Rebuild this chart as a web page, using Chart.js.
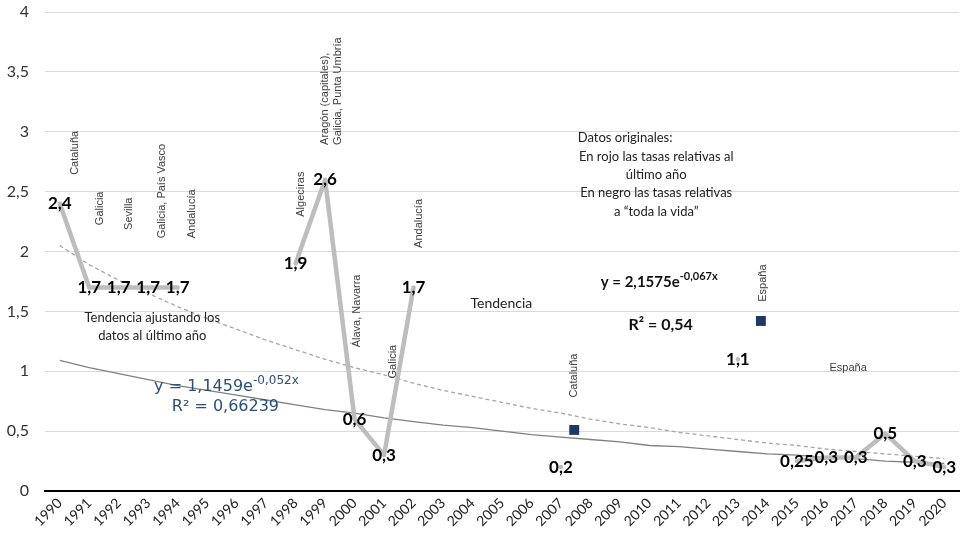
<!DOCTYPE html>
<html>
<head>
<meta charset="utf-8">
<script src="https://cdn.jsdelivr.net/npm/chart.js@4.4.1/dist/chart.umd.min.js"></script>
<style>
    html, body { margin: 0; padding: 0; background: #fff; }
    #wrap { width: 966px; height: 538px; }
</style>
</head>
<body>
<div id="wrap"><canvas id="myChart"></canvas></div>
<script>
// x axis years
const years = [1990, 1991, 1992, 1993, 1994, 1995, 1996, 1997, 1998, 1999, 2000,
    2001, 2002, 2003, 2004, 2005, 2006, 2007, 2008, 2009, 2010,
    2011, 2012, 2013, 2014, 2015, 2016, 2017, 2018, 2019, 2020];

// original rates (null = no study that year)
const rates = [2.4, 1.7, 1.7, 1.7, 1.7, null, null, null, 1.9, 2.6, 0.6,
    0.3, 1.7, null, null, null, null, 0.2, null, null, null,
    null, null, 1.1, null, 0.25, 0.28, 0.28, 0.48, 0.25, 0.2];
const rateLabels = ["2,4", "1,7", "1,7", "1,7", "1,7", "", "", "", "1,9", "2,6", "0,6",
    "0,3", "1,7", "", "", "", "", "0,2", "", "", "",
    "", "", "1,1", "", "0,25", "0,3", "0,3", "0,5", "0,3", "0,3"];

// rates adjusted to the last year (square markers)
const squareYears = [2007.45, 2013.78];
const squareValues = [0.51, 1.42];

// trend lines
const trendOriginal = [2.05, 1.89, 1.76, 1.65, 1.54, 1.44, 1.35, 1.26, 1.18, 1.10, 1.03,
    0.97, 0.90, 0.84, 0.79, 0.74, 0.69, 0.65, 0.60, 0.56, 0.53,
    0.49, 0.46, 0.43, 0.40, 0.38, 0.35, 0.33, 0.31, 0.29, 0.27];
const trendAdjusted = [1.09, 1.03, 0.98, 0.93, 0.88, 0.84, 0.80, 0.76, 0.72, 0.68, 0.65,
    0.61, 0.58, 0.55, 0.53, 0.50, 0.47, 0.45, 0.43, 0.41, 0.38,
    0.37, 0.35, 0.33, 0.31, 0.30, 0.28, 0.27, 0.25, 0.24, 0.23];

const yTicks = [0, 0.5, 1, 1.5, 2, 2.5, 3, 3.5, 4];

const toPoints = (vals) => years.map((yr, i) => ({ x: yr, y: vals[i] }));

// notes drawn next to the points: [text, year, value]
const verticalNotes = [
    ["Cataluña", 1990.51, 2.64],
    ["Galicia", 1991.35, 2.22],
    ["Sevilla", 1992.36, 2.18],
    ["Galicia, País Vasco", 1993.47, 2.11],
    ["Andalucía", 1994.48, 2.11],
    ["Algeciras", 1998.18, 2.29],
    ["Aragón (capitales),", 1998.99, 2.89],
    ["Galicia, Punta Umbría", 1999.43, 2.89],
    ["Álava, Navarra", 2000.07, 1.20],
    ["Galicia", 2001.31, 0.94],
    ["Andalucía", 2002.19, 2.03],
    ["Cataluña", 2007.44, 0.78],
    ["España", 2013.84, 1.58],
];

const notesPlugin = {
    id: "notes",
    afterDatasetsDraw(chart) {
        const { ctx } = chart;
        const xs = chart.scales.x;
        const ys = chart.scales.y;
        const px = (v) => xs.getPixelForValue(v);
        const py = (v) => ys.getPixelForValue(v);

        ctx.save();

        // rotated place names
        ctx.fillStyle = "#404040";
        ctx.font = "11px 'Liberation Sans'";
        ctx.textAlign = "left";
        ctx.textBaseline = "middle";
        verticalNotes.forEach(([txt, xv, yv]) => {
            ctx.save();
            ctx.translate(px(xv), py(yv));
            ctx.rotate(-Math.PI / 2);
            ctx.fillText(txt, 0, 0);
            ctx.restore();
        });
        ctx.textAlign = "center";
        ctx.fillText("España", px(2016.74), py(1.03));

        // text boxes
        ctx.fillStyle = "#222";
        ctx.font = "13px Lato";
        ctx.fillText("Tendencia ajustando los", px(1993.14), py(1.45));
        ctx.fillText("datos al último año", px(1993.14), py(1.30));
        ctx.font = "14px Lato";
        ctx.fillText("Tendencia", px(2004.98), py(1.57));

        ctx.font = "13px Lato";
        ctx.textAlign = "left";
        ctx.fillText("Datos originales:", px(2007.57), py(2.95));
        ctx.textAlign = "center";
        ctx.fillText("En rojo las tasas relativas al", px(2010.23), py(2.79));
        ctx.fillText("último año", px(2010.23), py(2.64));
        ctx.fillText("En negro las tasas relativas", px(2010.23), py(2.49));
        ctx.fillText("a “toda la vida”", px(2010.23), py(2.33));

        // equation of the original trend
        ctx.textAlign = "left";
        ctx.fillStyle = "#111";
        let x0 = px(2008.35);
        let y0 = py(1.745);
        ctx.font = "bold 15px Lato";
        ctx.fillText("y = 2,1575e", x0, y0);
        x0 += ctx.measureText("y = 2,1575e").width;
        ctx.font = "bold 11px Lato";
        ctx.fillText("-0,067x", x0, y0 - 6);
        ctx.font = "bold 16px Lato";
        ctx.fillText("R² = 0,54", px(2009.29), py(1.386));

        // equation of the adjusted trend
        ctx.fillStyle = "#2D4F73";
        x0 = px(1993.2);
        y0 = py(0.87);
        ctx.font = "16px 'DejaVu Sans'";
        ctx.fillText("y = 1,1459e", x0, y0);
        x0 += ctx.measureText("y = 1,1459e").width;
        ctx.font = "12px 'DejaVu Sans'";
        ctx.fillText("-0,052x", x0, y0 - 6);
        ctx.font = "16px 'DejaVu Sans'";
        ctx.fillText("R² = 0,66239", px(1993.8), py(0.70));

        // value labels centred on the points
        ctx.fillStyle = "#000";
        ctx.font = "bold 17px Lato";
        ctx.textAlign = "center";
        ctx.textBaseline = "middle";
        const meta = chart.getDatasetMeta(2);
        meta.data.forEach((pt, i) => {
            if (rates[i] === null || !rateLabels[i]) return;
            ctx.fillText(rateLabels[i], pt.x, pt.y);
        });

        ctx.restore();
    },
};

const ctx = document.getElementById("myChart").getContext("2d");

new Chart(ctx, {
    type: "line",
    data: {
        datasets: [
            {
                label: "Tendencia",
                data: toPoints(trendOriginal),
                borderColor: "#A6A6A6",
                borderWidth: 1.3,
                borderDash: [4, 3],
                pointRadius: 0,
                order: 3,
            },
            {
                label: "Tendencia ajustada",
                data: toPoints(trendAdjusted),
                borderColor: "#808080",
                borderWidth: 1.3,
                pointRadius: 0,
                order: 2,
            },
            {
                label: "Tasas",
                data: toPoints(rates),
                borderColor: "#BDBDBD",
                borderWidth: 4.5,
                borderJoinStyle: "round",
                borderCapStyle: "round",
                pointRadius: 0,
                spanGaps: false,
                order: 1,
            },
            {
                label: "Ajustadas",
                type: "scatter",
                data: squareYears.map((yr, i) => ({ x: yr, y: squareValues[i] })),
                pointStyle: "rect",
                pointRadius: 7,
                backgroundColor: "#203864",
                borderWidth: 0,
                order: 0,
            },
        ],
    },
    options: {
        responsive: true,
        maintainAspectRatio: false,
        animation: false,
        layout: { padding: { top: 12, left: 0, right: 0, bottom: 0 } },
        plugins: {
            legend: { display: false },
            tooltip: { enabled: false },
        },
        scales: {
            x: {
                type: "linear",
                min: 1989.5,
                max: 2020.5,
                afterBuildTicks: (scale) => {
                    scale.ticks = years.map((v) => ({ value: v }));
                },
                afterFit: (scale) => {
                    scale.height = 47;
                    scale.paddingLeft = 0;
                    scale.paddingRight = 0;
                },
                grid: { display: false, drawTicks: false },
                border: { display: true, color: "#000", width: 2 },
                ticks: {
                    autoSkip: false,
                    minRotation: 45,
                    maxRotation: 45,
                    padding: 4,
                    color: "#222",
                    font: { family: "Lato", size: 14 },
                    callback: (v) => String(v),
                },
            },
            y: {
                min: 0,
                max: 4,
                afterBuildTicks: (scale) => {
                    scale.ticks = yTicks.map((v) => ({ value: v }));
                },
                afterFit: (scale) => {
                    scale.width = 45;
                    scale.paddingTop = 0;
                    scale.paddingBottom = 0;
                },
                grid: { color: "#D9D9D9", lineWidth: 1, drawTicks: false },
                border: { display: false },
                ticks: {
                    padding: 16,
                    color: "#333",
                    font: { family: "Lato", size: 16 },
                    callback: (v) => String(v).replace(".", ","),
                },
            },
        },
    },
    plugins: [notesPlugin],
});
</script>
</body>
</html>
